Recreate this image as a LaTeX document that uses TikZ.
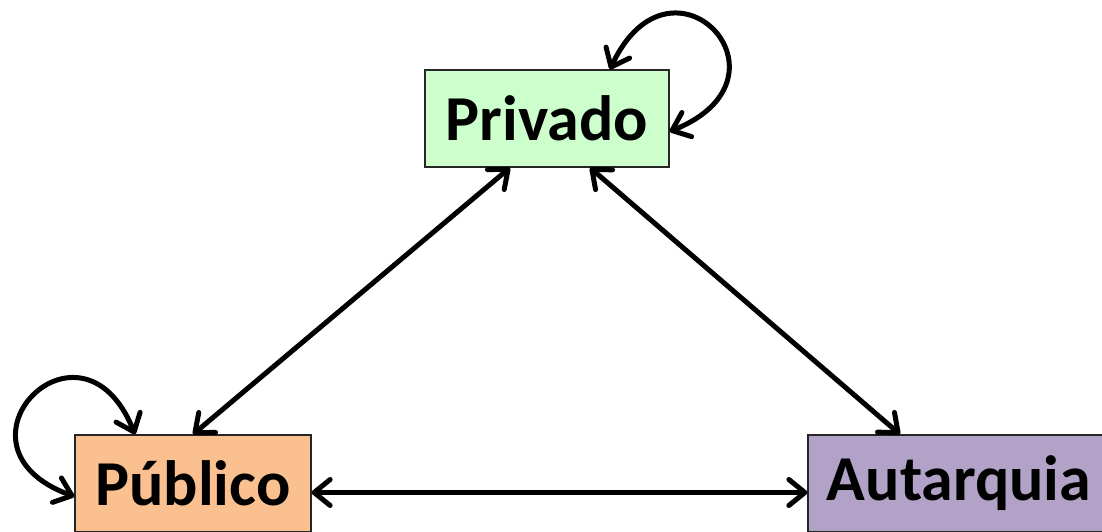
\documentclass[tikz,border=0pt]{standalone}
\usepackage{fontspec}
\setmainfont{Carlito}
\usetikzlibrary{arrows.meta}
\definecolor{privcol}{RGB}{204,255,204}
\definecolor{pubcol}{RGB}{250,192,143}
\definecolor{autcol}{RGB}{179,162,199}
\begin{document}
\begin{tikzpicture}[x=1pt,y=1pt,
  box/.style={draw=black!85,line width=1.3pt,rectangle,inner sep=0pt,minimum height=97pt,
    font=\fontsize{64}{72}\selectfont\bfseries},
  link/.style={line width=5pt,line cap=round,{Straight Barb[length=16pt, width=26pt, round]}-{Straight Barb[length=16pt, width=26pt, round]}}]
\useasboundingbox (0,0) rectangle (1102,531);
\node [box, fill=privcol, minimum width=244pt, name=priv] at (547,412.5) {Privado};
\node [box, fill=pubcol, minimum width=236pt, name=pub]   at (193,47.5) {Público};
\node [box, fill=autcol, minimum width=302pt, name=aut]   at (959,47.5) {Autarquia};
\draw [link]([xshift=63pt]priv.north) to [out=65,in=22,distance=145pt]([yshift=-13pt]priv.east);
\draw [link]([xshift=-58pt]pub.north) to [out=112,in=160,distance=145pt]([yshift=-13pt]pub.west);
\draw [link]([xshift=-37pt]priv.south) to (pub.north);
\draw [link]([xshift=43pt]priv.south) to ([xshift=-59pt]aut.north);
\draw [link]([yshift=-9pt]pub.east) to ([yshift=-9pt]aut.west);
\end{tikzpicture}
\end{document}
